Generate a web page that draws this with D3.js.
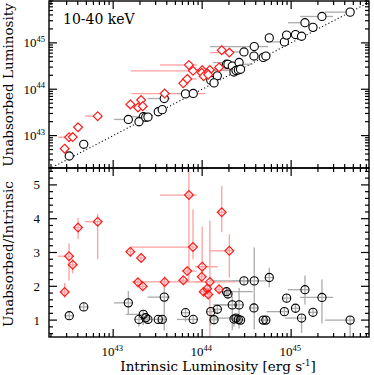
<!DOCTYPE html>
<html><head><meta charset="utf-8">
<script src="https://cdn.jsdelivr.net/npm/d3@7"></script>
<style>
body{margin:0;background:#fff}
svg{display:block}
text{fill:#000}
</style>
</head><body>
<svg id="c" width="374" height="375"></svg>
<script>
// ---------------- data ----------------
const redIntr  = [2.85e42,3.19e42,3.51e42,4.03e42,6.7e42,1.56e43,2.06e43,1.90e43,2.15e43,3.79e43,6.14e43,6.8e43,7.1e43,7.89e43,1.66e44,2.02e44,1.0e44,9.9e43,1.22e44,1.14e44,1.04e44,1.17e44,1.55e44];
const redUnabs = [5.22e42,9.22e42,9.27e42,1.51e43,2.62e43,4.71e43,5.85e43,4.03e43,4.30e43,8.07e43,1.34e44,1.67e44,3.34e44,2.49e44,6.96e44,6.16e44,2.58e44,2.26e44,2.60e44,2.20e44,1.91e44,2.06e44,2.96e44];
const redRatio = [1.83,2.89,2.64,3.74,3.91,3.02,2.84,2.12,2.00,2.13,2.18,2.45,4.70,3.16,4.19,3.05,2.58,2.28,2.13,1.93,1.84,1.76,1.91];
const redXLo   = [null,2.4e42,null,null,4.8e42,null,null,null,null,1.61e43,null,5.9e43,3.36e43,1.58e43,null,1.22e44,8.3e43,null,8.3e43,null,null,null,null];
const redXHi   = [null,null,null,null,null,null,null,null,null,1.08e44,null,8.7e43,8.7e43,null,null,null,1.5e44,null,2.34e44,null,null,null,null];
const redRLo   = [1.66,2.17,2.38,3.39,2.80,null,null,null,null,1.95,null,null,2.11,2.80,3.60,2.26,2.30,null,0.30,null,null,null,null];
const redRHi   = [2.10,3.27,2.80,4.03,4.15,null,null,null,null,2.30,null,null,6.0,4.28,4.97,3.54,3.77,null,3.95,null,null,null,null];

const blackIntr  = [3.21e42,4.67e42,1.48e43,2.18e43,1.95e43,2.32e43,2.46e43,3.21e43,3.56e43,3.75e43,6.5e43,7.94e43,1.88e44,1.95e44,2.95e44,3.85e44,5.68e44,2.18e44,2.6e44,3.82e44,1.25e44,1.48e44,1.36e44,2.28e44,2.40e44,2.55e44,2.7e44,4.86e44,5.2e44,8.4e44,8.9e44,1.43e45,2.22e45,1.12e45,1.76e45,1.31e45,4.6e45];
const blackUnabs = [3.63e42,6.49e42,2.23e43,2.55e43,1.99e43,2.48e43,2.51e43,3.27e43,3.63e43,6.30e43,7.93e43,8.10e43,3.46e44,3.45e44,6.37e44,8.32e44,1.28e45,3.16e44,3.77e44,5.20e44,1.56e44,1.95e44,1.37e44,2.35e44,2.54e44,2.60e44,2.70e44,4.86e44,5.20e44,1.05e45,1.47e45,2.72e45,3.71e45,1.51e45,2.16e45,1.39e45,4.60e45];
const blackRatio = [1.13,1.39,1.51,1.17,1.02,1.07,1.02,1.02,1.02,1.68,1.22,1.02,1.84,1.77,2.16,2.16,2.26,1.45,1.45,1.36,1.25,1.32,1.01,1.03,1.06,1.02,1.00,1.00,1.00,1.25,1.65,1.90,1.67,1.35,1.23,1.06,1.00];
const blackXLo   = [null,null,1.02e43,1.4e43,null,null,null,null,null,2.44e43,null,5.2e43,1.5e44,null,2.2e44,1.22e44,null,1.39e44,1.32e44,null,null,null,null,null,1.3e44,null,null,null,null,5.3e44,null,9.2e44,1.26e45,null,null,8.5e44,2.4e45];
const blackXHi   = [null,null,null,null,null,null,null,null,null,4.35e43,null,null,3.7e44,null,null,5.5e44,null,null,null,null,null,null,null,null,null,null,null,null,null,null,null,null,2.96e45,null,null,null,null];
const blackRLo   = [null,null,1.17,0.85,0.8,0.9,null,0.9,null,0.69,0.95,null,null,null,null,0.72,1.97,0.7,0.75,null,0.85,null,null,0.8,null,0.85,null,null,null,null,null,1.46,0.9,null,null,0.62,0.4];
const blackRHi   = [null,null,1.86,null,null,null,null,null,null,2.21,null,null,null,null,null,3.15,2.55,1.7,1.95,null,null,null,null,null,null,null,null,null,null,null,null,2.32,2.2,null,null,null,null];

const xMajorExp = [43,44,45];
const yTopMajorExp = [43,44,45];
const ratioMajor = [1,2,3,4,5];
const bandLabel = "10-40 keV";
const yTopTitle = "Unabsorbed Luminosity";
const yBotTitle = "Unabsorbed/Intrinsic";
const xTitle = "Intrinsic Luminosity [erg s";

// ---------------- layout ----------------
const L=49, R=369, T=1, M=168, B=337;
const x = d3.scaleLog().domain([1.9e42, 7.5e45]).range([L, R]);
const yTop = d3.scaleLog().domain([2e42, 8e45]).range([M, T]);
const yBot = d3.scaleLinear().domain([0.5, 5.5]).range([B, M]);

const RED = "#ff1a1a", PINK = "#ffa0a0", GREY = "#ababab";
const TITLE_FONT = "'DejaVu Serif', serif";
const NUM_FONT = "'Liberation Serif', 'Times New Roman', serif";

const svg = d3.select("#c");
const defs = svg.append("defs");
defs.append("clipPath").attr("id","clipTop").append("rect").attr("x",L).attr("y",T).attr("width",R-L).attr("height",M-T);
defs.append("clipPath").attr("id","clipBot").append("rect").attr("x",L).attr("y",M).attr("width",R-L).attr("height",B-M);

function rows(intr, unabs, ratio, xLo, xHi, rLo, rHi){
  return intr.map((v,i)=>({x:v,u:unabs[i],r:ratio[i],xLo:xLo[i],xHi:xHi[i],rLo:rLo[i],rHi:rHi[i]}));
}
const red = rows(redIntr, redUnabs, redRatio, redXLo, redXHi, redRLo, redRHi);
const black = rows(blackIntr, blackUnabs, blackRatio, blackXLo, blackXHi, blackRLo, blackRHi);

// ---------------- top panel ----------------
const gTop = svg.append("g").attr("clip-path","url(#clipTop)");
// 1:1 dotted line
const lo = 1e42, hi = 1e46;
gTop.append("line")
  .attr("x1", x(lo)).attr("y1", yTop(lo)).attr("x2", x(hi)).attr("y2", yTop(hi))
  .attr("stroke","#000").attr("stroke-width",1.1).attr("stroke-dasharray","1.1,2.4");

function hbarsTop(data, color){
  data.forEach(d=>{
    if(d.xLo!=null) gTop.append("line").attr("x1",x(d.xLo)).attr("x2",x(d.x)).attr("y1",yTop(d.u)).attr("y2",yTop(d.u)).attr("stroke",color).attr("stroke-width",1.3);
    if(d.xHi!=null) gTop.append("line").attr("x1",x(d.x)).attr("x2",x(d.xHi)).attr("y1",yTop(d.u)).attr("y2",yTop(d.u)).attr("stroke",color).attr("stroke-width",1.3);
  });
}
hbarsTop(red, PINK);
hbarsTop(black, GREY);

const CR = 4.1, DR = 4.4;
const diamond = (cx,cy)=>`M${cx},${cy-DR}L${cx+DR},${cy}L${cx},${cy+DR}L${cx-DR},${cy}Z`;

gTop.selectAll("circle.b").data(black).enter().append("circle")
  .attr("cx",d=>x(d.x)).attr("cy",d=>yTop(d.u)).attr("r",CR)
  .attr("fill","#fff").attr("stroke","#000").attr("stroke-width",1.1);
gTop.selectAll("path.r").data(red).enter().append("path")
  .attr("d",d=>diamond(x(d.x), yTop(d.u)))
  .attr("fill","#fff").attr("stroke",RED).attr("stroke-width",1.2);

// ---------------- bottom panel ----------------
const gBot = svg.append("g").attr("clip-path","url(#clipBot)");
function barsBot(data, color, rad){
  data.forEach(d=>{
    const cx = x(d.x), cy = yBot(d.r);
    const xa = d.xLo!=null ? Math.min(x(d.xLo), cx-rad) : cx-rad;
    const xb = d.xHi!=null ? Math.max(x(d.xHi), cx+rad) : cx+rad;
    const ya = d.rHi!=null ? Math.min(yBot(d.rHi), cy-rad) : cy-rad;
    const yb = d.rLo!=null ? Math.max(yBot(d.rLo), cy+rad) : cy+rad;
    gBot.append("line").attr("x1",xa).attr("x2",xb).attr("y1",cy).attr("y2",cy).attr("stroke",color).attr("stroke-width",1.3);
    gBot.append("line").attr("x1",cx).attr("x2",cx).attr("y1",ya).attr("y2",yb).attr("stroke",color).attr("stroke-width",1.3);
  });
}
barsBot(black, GREY, CR);
barsBot(red, PINK, DR);
gBot.selectAll("circle.b").data(black).enter().append("circle")
  .attr("cx",d=>x(d.x)).attr("cy",d=>yBot(d.r)).attr("r",CR)
  .attr("fill","none").attr("stroke","#000").attr("stroke-width",1.1);
gBot.selectAll("path.r").data(red).enter().append("path")
  .attr("d",d=>diamond(x(d.x), yBot(d.r)))
  .attr("fill","none").attr("stroke",RED).attr("stroke-width",1.2);

// ---------------- frames & ticks ----------------
const gAx = svg.append("g").attr("stroke","#000").attr("stroke-width",1.2);
const isMajorLog = v => Math.abs(Math.log10(v) - Math.round(Math.log10(v))) < 1e-6;
const MAJ = 8, MIN = 4;
function xTicksAt(y0, dir){
  x.ticks().forEach(v=>{
    const len = isMajorLog(v) ? MAJ : MIN;
    gAx.append("line").attr("x1",x(v)).attr("x2",x(v)).attr("y1",y0).attr("y2",y0+dir*len);
  });
}
function yTopTicksAt(x0, dir){
  yTop.ticks().forEach(v=>{
    const len = isMajorLog(v) ? MAJ : MIN;
    gAx.append("line").attr("y1",yTop(v)).attr("y2",yTop(v)).attr("x1",x0).attr("x2",x0+dir*len);
  });
}
function yBotTicksAt(x0, dir){
  d3.range(0.6, 5.45, 0.2).forEach(v=>{
    const major = Math.abs(v-Math.round(v))<1e-6;
    const len = major ? MAJ : MIN;
    gAx.append("line").attr("y1",yBot(v)).attr("y2",yBot(v)).attr("x1",x0).attr("x2",x0+dir*len);
  });
}
xTicksAt(T, 1); xTicksAt(M, -1); xTicksAt(M, 1); xTicksAt(B, -1);
yTopTicksAt(L, 1); yTopTicksAt(R, -1);
yBotTicksAt(L, 1); yBotTicksAt(R, -1);
gAx.append("rect").attr("x",L).attr("y",T).attr("width",R-L).attr("height",M-T).attr("fill","none").attr("stroke-width",1.4);
gAx.append("rect").attr("x",L).attr("y",M).attr("width",R-L).attr("height",B-M).attr("fill","none").attr("stroke-width",1.4);

// ---------------- labels ----------------
const gT = svg.append("g");
// x tick labels
xMajorExp.forEach(e=>{
  const t = gT.append("text").attr("x", x(Math.pow(10,e))-1).attr("y",356)
    .attr("text-anchor","middle").attr("font-family",NUM_FONT).attr("font-size",13);
  t.append("tspan").text("10");
  t.append("tspan").attr("dy",-5.5).attr("font-size",8.5).text(String(e));
});
// top y tick labels
yTopMajorExp.forEach(e=>{
  const t = gT.append("text").attr("x", 45).attr("y", yTop(Math.pow(10,e))+4.5)
    .attr("text-anchor","end").attr("font-family",NUM_FONT).attr("font-size",13);
  t.append("tspan").text("10");
  t.append("tspan").attr("dy",-5.5).attr("font-size",8.5).text(String(e));
});
// bottom y tick labels
ratioMajor.forEach(v=>{
  gT.append("text").attr("x",40).attr("y",yBot(v)+4.5).attr("text-anchor","end")
    .attr("font-family",NUM_FONT).attr("font-size",13).text(String(v));
});
// band label
gT.append("text").attr("x",63).attr("y",24).attr("font-family",TITLE_FONT).attr("font-size",14).text(bandLabel);
// axis titles
gT.append("text").attr("transform","translate(13,85) rotate(-90)").attr("text-anchor","middle")
  .attr("font-family",TITLE_FONT).attr("font-size",13.5).text(yTopTitle);
gT.append("text").attr("transform","translate(13,254) rotate(-90)").attr("text-anchor","middle")
  .attr("font-family",TITLE_FONT).attr("font-size",13.5).text(yBotTitle);
const xt = gT.append("text").attr("x",218).attr("y",371).attr("text-anchor","middle")
  .attr("font-family",TITLE_FONT).attr("font-size",13.5);
xt.append("tspan").text(xTitle);
xt.append("tspan").attr("dy",-5).attr("font-size",8.5).text("-1");
xt.append("tspan").attr("dy",5).text("]");
</script>
</body></html>
